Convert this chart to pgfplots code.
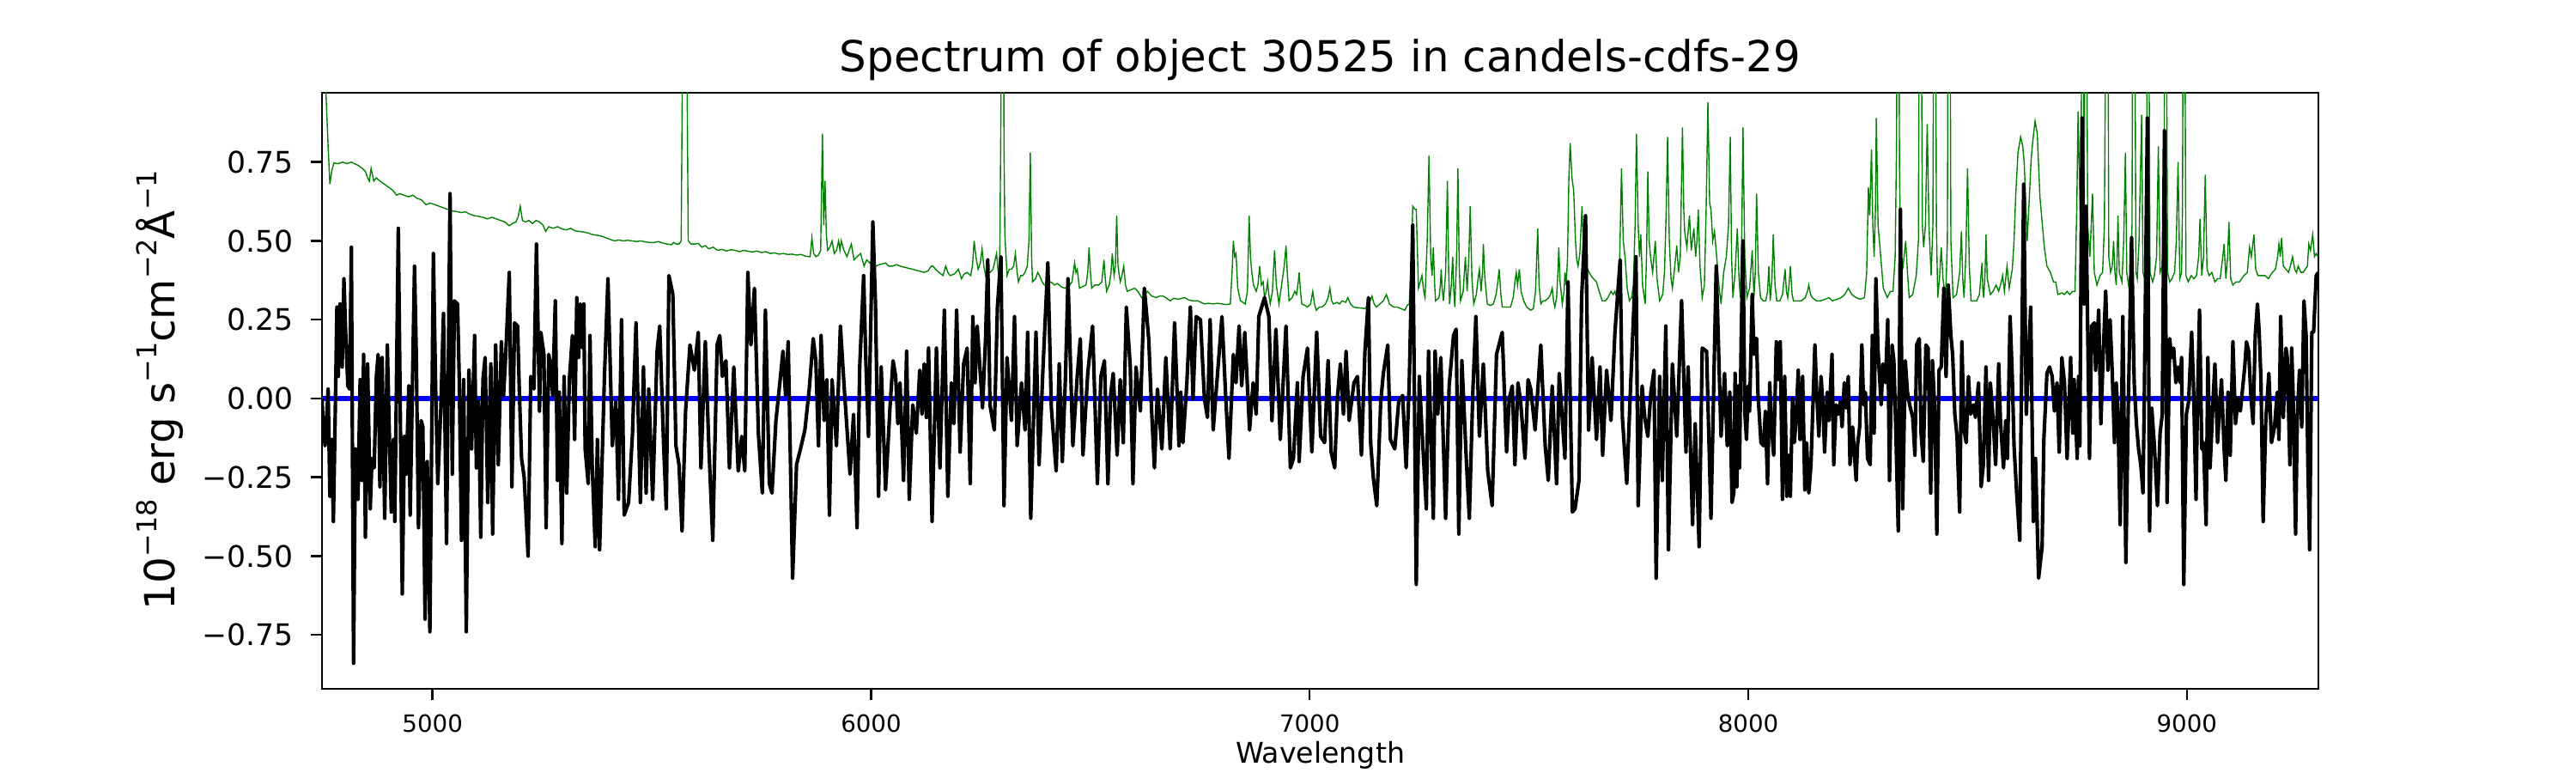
\documentclass[border=0pt]{standalone}
\usepackage{pgfplots}
\pgfplotsset{compat=1.18}
\usepackage{fontspec}
\setmainfont{DejaVu Sans}
\definecolor{mplgreen}{rgb}{0,0.5,0}
\definecolor{mplblue}{rgb}{0,0,1}
\newcommand\sups[1]{\raisebox{0.42em}{\fontsize{11.5}{12}\selectfont #1}}
\begin{document}
\begin{tikzpicture}
\useasboundingbox (-1.875in,-0.49in) rectangle (13.125in,4.01in);
\begin{axis}[
  at={(0,0)}, anchor=south west,
  scale only axis, width=11.625in, height=3.47in,
  xmin=4748, xmax=9300, ymin=-0.921, ymax=0.970,
  axis line style={line width=0.9pt},
  tick style={line width=0.9pt, black},
  major tick length=4.7pt,
  tick align=outside,
  xtick pos=bottom, ytick pos=left,
  xtick={5000,6000,7000,8000,9000},
  xticklabels={5000,6000,7000,8000,9000},
  ytick={-0.75,-0.5,-0.25,0,0.25,0.5,0.75},
  yticklabels={−0.75,−0.50,−0.25,0.00,0.25,0.50,0.75},
  x tick label style={font=\fontsize{10}{12}\selectfont, anchor=base, inner sep=0pt, yshift=-13.4pt},
  y tick label style={font=\fontsize{12.5}{15}\selectfont, anchor=east, inner sep=0pt, xshift=-7.2pt},
  clip=true,
]
\addplot[mplblue, line width=2pt] coordinates {(4748,0) (9300,0)};
\addplot[mplgreen, line width=0.5pt] coordinates {
(4748,1.40) (4752,1.15) (4757,0.97) (4762,0.80) (4766,0.68) (4770,0.72) (4775,0.747) (4785,0.745) (4795,0.75) (4805,0.745) (4815,0.75) (4822,0.745) (4830,0.74) (4840,0.73) (4847,0.72) (4852,0.70) (4856,0.69) (4860,0.73) (4866,0.69) (4872,0.70) (4880,0.69) (4890,0.68) (4900,0.67) (4910,0.66) (4918,0.645) (4925,0.65) (4935,0.645) (4945,0.64) (4955,0.645) (4965,0.635) (4975,0.63) (4985,0.615) (4995,0.62) (5005,0.615) (5015,0.61) (5025,0.605) (5035,0.60) (5045,0.595) (5055,0.593) (5065,0.59) (5075,0.592) (5085,0.585) (5095,0.58) (5105,0.578) (5115,0.575) (5125,0.57) (5135,0.575) (5145,0.57) (5155,0.565) (5165,0.56) (5175,0.548) (5182,0.555) (5190,0.56) (5195,0.575) (5200,0.61) (5205,0.565) (5212,0.56) (5220,0.565) (5228,0.555) (5236,0.565) (5244,0.56) (5252,0.55) (5258,0.53) (5265,0.545) (5275,0.54) (5285,0.545) (5295,0.538) (5305,0.535) (5315,0.54) (5325,0.532) (5335,0.53) (5345,0.528) (5355,0.525) (5365,0.52) (5375,0.518) (5385,0.515) (5395,0.51) (5405,0.505) (5415,0.50) (5425,0.503) (5435,0.50) (5445,0.502) (5455,0.50) (5465,0.498) (5475,0.50) (5485,0.497) (5495,0.495) (5505,0.495) (5515,0.498) (5525,0.493) (5535,0.49) (5545,0.488) (5550,0.495) (5556,0.49) (5562,0.49) (5567,0.50) (5571,1.3) (5579,1.3) (5583,0.50) (5590,0.49) (5598,0.49) (5606,0.492) (5614,0.48) (5622,0.485) (5630,0.475) (5640,0.48) (5650,0.47) (5660,0.473) (5670,0.468) (5680,0.472) (5690,0.47) (5700,0.466) (5710,0.47) (5720,0.467) (5730,0.465) (5740,0.468) (5750,0.463) (5760,0.466) (5770,0.46) (5780,0.462) (5790,0.458) (5800,0.46) (5810,0.457) (5820,0.458) (5830,0.455) (5840,0.457) (5850,0.452) (5858,0.45) (5861,0.45) (5865,0.51) (5869,0.46) (5874,0.45) (5880,0.455) (5885,0.47) (5889,0.84) (5892,0.55) (5895,0.69) (5898,0.52) (5901,0.47) (5906,0.48) (5911,0.50) (5916,0.46) (5921,0.47) (5926,0.50) (5929,0.47) (5932,0.50) (5938,0.47) (5945,0.45) (5950,0.47) (5955,0.49) (5961,0.44) (5968,0.45) (5976,0.46) (5984,0.42) (5990,0.44) (5997,0.43) (6004,0.44) (6010,0.42) (6020,0.425) (6033,0.43) (6040,0.42) (6049,0.42) (6058,0.425) (6066,0.42) (6080,0.415) (6095,0.41) (6108,0.405) (6121,0.40) (6130,0.405) (6137,0.42) (6141,0.42) (6147,0.41) (6155,0.40) (6164,0.39) (6170,0.42) (6175,0.40) (6180,0.39) (6190,0.395) (6199,0.41) (6206,0.38) (6212,0.395) (6219,0.40) (6227,0.39) (6231,0.42) (6235,0.50) (6239,0.45) (6244,0.41) (6249,0.43) (6253,0.475) (6257,0.42) (6261,0.39) (6266,0.40) (6271,0.40) (6278,0.41) (6283,0.44) (6286,0.46) (6290,0.40) (6293,0.38) (6296,0.9) (6297,1.4) (6302,1.4) (6303,0.8) (6305,0.52) (6310,0.39) (6315,0.41) (6320,0.41) (6325,0.42) (6329,0.46) (6333,0.40) (6336,0.37) (6341,0.39) (6346,0.39) (6351,0.40) (6356,0.42) (6360,0.50) (6363,0.78) (6366,0.45) (6368,0.37) (6375,0.38) (6380,0.40) (6384,0.39) (6390,0.37) (6395,0.36) (6405,0.365) (6410,0.37) (6418,0.36) (6425,0.365) (6433,0.355) (6441,0.35) (6450,0.355) (6458,0.37) (6464,0.43) (6467,0.40) (6470,0.41) (6475,0.35) (6482,0.355) (6490,0.36) (6494,0.40) (6497,0.48) (6500,0.40) (6503,0.35) (6510,0.36) (6519,0.36) (6526,0.37) (6531,0.44) (6534,0.38) (6537,0.34) (6543,0.36) (6547,0.40) (6550,0.46) (6554,0.39) (6557,0.42) (6560,0.58) (6563,0.42) (6568,0.37) (6572,0.39) (6576,0.42) (6580,0.36) (6584,0.34) (6592,0.345) (6601,0.35) (6608,0.34) (6617,0.32) (6624,0.33) (6630,0.34) (6640,0.325) (6650,0.32) (6658,0.325) (6666,0.325) (6674,0.318) (6682,0.31) (6690,0.318) (6700,0.315) (6715,0.32) (6725,0.312) (6734,0.31) (6745,0.31) (6760,0.30) (6770,0.302) (6780,0.30) (6790,0.302) (6800,0.30) (6810,0.298) (6819,0.30) (6823,0.40) (6826,0.50) (6829,0.45) (6832,0.46) (6836,0.35) (6842,0.31) (6848,0.305) (6853,0.30) (6858,0.34) (6862,0.58) (6865,0.45) (6868,0.40) (6872,0.36) (6878,0.34) (6882,0.36) (6886,0.42) (6890,0.36) (6894,0.37) (6897,0.32) (6901,0.34) (6904,0.37) (6907,0.33) (6910,0.30) (6915,0.34) (6920,0.47) (6924,0.36) (6930,0.30) (6933,0.33) (6937,0.37) (6942,0.42) (6946,0.485) (6949,0.40) (6953,0.31) (6960,0.32) (6966,0.34) (6970,0.33) (6974,0.37) (6976,0.40) (6979,0.34) (6982,0.30) (6990,0.295) (6995,0.29) (7002,0.30) (7007,0.34) (7011,0.30) (7015,0.28) (7022,0.29) (7028,0.29) (7036,0.30) (7042,0.32) (7046,0.35) (7050,0.31) (7054,0.30) (7062,0.305) (7068,0.30) (7074,0.31) (7082,0.305) (7087,0.32) (7093,0.30) (7100,0.29) (7110,0.288) (7118,0.287) (7126,0.285) (7134,0.30) (7138,0.31) (7142,0.325) (7147,0.30) (7152,0.29) (7160,0.30) (7168,0.31) (7175,0.33) (7182,0.30) (7191,0.29) (7200,0.29) (7208,0.285) (7217,0.28) (7222,0.295) (7227,0.30) (7232,0.45) (7235,0.61) (7240,0.60) (7243,0.60) (7246,0.45) (7248,0.35) (7252,0.37) (7256,0.39) (7260,0.34) (7263,0.32) (7268,0.50) (7272,0.77) (7276,0.45) (7279,0.39) (7282,0.48) (7285,0.36) (7287,0.31) (7295,0.32) (7298,0.36) (7300,0.41) (7302,0.35) (7305,0.31) (7310,0.40) (7314,0.69) (7317,0.40) (7319,0.30) (7323,0.36) (7326,0.45) (7329,0.33) (7331,0.29) (7335,0.45) (7338,0.73) (7341,0.42) (7344,0.31) (7350,0.34) (7355,0.45) (7359,0.34) (7363,0.45) (7366,0.61) (7370,0.38) (7374,0.30) (7380,0.33) (7384,0.38) (7387,0.41) (7391,0.34) (7394,0.40) (7396,0.49) (7399,0.39) (7405,0.30) (7412,0.295) (7419,0.30) (7425,0.33) (7429,0.37) (7432,0.41) (7436,0.33) (7439,0.29) (7448,0.29) (7458,0.29) (7464,0.32) (7468,0.37) (7471,0.40) (7474,0.36) (7478,0.41) (7482,0.34) (7488,0.31) (7495,0.29) (7504,0.28) (7510,0.285) (7515,0.34) (7520,0.54) (7523,0.36) (7527,0.30) (7532,0.31) (7537,0.31) (7545,0.32) (7549,0.33) (7553,0.35) (7556,0.31) (7559,0.29) (7563,0.32) (7566,0.40) (7568,0.48) (7571,0.37) (7576,0.30) (7580,0.34) (7582,0.40) (7585,0.36) (7588,0.45) (7591,0.70) (7594,0.81) (7598,0.70) (7602,0.66) (7606,0.50) (7609,0.44) (7612,0.42) (7616,0.46) (7619,0.55) (7621,0.61) (7624,0.48) (7628,0.40) (7634,0.41) (7641,0.39) (7647,0.38) (7654,0.37) (7660,0.34) (7667,0.31) (7674,0.31) (7680,0.32) (7687,0.34) (7692,0.33) (7696,0.34) (7700,0.32) (7703,0.29) (7707,0.45) (7711,0.73) (7715,0.50) (7719,0.45) (7724,0.35) (7729,0.31) (7734,0.32) (7738,0.36) (7742,0.55) (7745,0.84) (7749,0.55) (7752,0.45) (7755,0.52) (7759,0.36) (7765,0.30) (7768,0.45) (7771,0.72) (7774,0.50) (7778,0.44) (7782,0.40) (7788,0.50) (7792,0.38) (7798,0.31) (7805,0.33) (7809,0.40) (7813,0.60) (7816,0.83) (7820,0.50) (7824,0.38) (7827,0.35) (7831,0.40) (7837,0.485) (7841,0.40) (7845,0.45) (7848,0.70) (7850,0.86) (7853,0.60) (7855,0.53) (7860,0.48) (7866,0.58) (7870,0.47) (7876,0.54) (7880,0.45) (7883,0.50) (7886,0.60) (7890,0.42) (7895,0.32) (7900,0.36) (7904,0.60) (7908,0.94) (7912,0.62) (7915,0.60) (7919,0.50) (7923,0.53) (7928,0.45) (7933,0.36) (7938,0.30) (7944,0.40) (7950,0.45) (7955,0.55) (7959,0.83) (7962,0.45) (7965,0.32) (7970,0.40) (7975,0.54) (7979,0.38) (7982,0.32) (7985,0.50) (7988,0.86) (7992,0.45) (7997,0.32) (8003,0.35) (8009,0.47) (8013,0.32) (8016,0.40) (8019,0.65) (8023,0.40) (8028,0.32) (8034,0.31) (8040,0.31) (8044,0.34) (8047,0.42) (8050,0.31) (8054,0.38) (8057,0.52) (8061,0.36) (8065,0.31) (8072,0.31) (8078,0.33) (8084,0.41) (8087,0.34) (8090,0.32) (8093,0.36) (8096,0.42) (8100,0.33) (8103,0.31) (8112,0.31) (8121,0.31) (8130,0.32) (8135,0.34) (8138,0.36) (8142,0.33) (8146,0.32) (8155,0.31) (8165,0.31) (8175,0.315) (8184,0.32) (8192,0.31) (8203,0.315) (8212,0.32) (8220,0.33) (8228,0.35) (8236,0.33) (8246,0.32) (8255,0.315) (8265,0.32) (8270,0.40) (8274,0.67) (8277,0.58) (8281,0.79) (8284,0.55) (8287,0.45) (8290,0.60) (8292,0.89) (8296,0.55) (8302,0.45) (8308,0.35) (8317,0.32) (8324,0.34) (8330,0.34) (8335,0.45) (8338,0.8) (8340,1.4) (8343,1.4) (8345,0.7) (8348,0.45) (8353,0.42) (8359,0.50) (8363,0.40) (8367,0.32) (8375,0.33) (8383,0.39) (8388,0.50) (8390,1.4) (8394,1.4) (8397,0.55) (8400,0.48) (8404,0.55) (8408,0.87) (8412,0.55) (8417,0.39) (8421,0.55) (8423,1.4) (8427,1.4) (8429,0.55) (8432,0.32) (8436,0.38) (8440,0.48) (8444,0.38) (8450,0.32) (8454,0.50) (8456,1.4) (8460,1.4) (8462,0.50) (8467,0.32) (8475,0.33) (8482,0.40) (8486,0.53) (8489,0.38) (8492,0.32) (8496,0.45) (8500,0.73) (8504,0.42) (8508,0.31) (8515,0.31) (8521,0.31) (8527,0.33) (8530,0.38) (8533,0.43) (8535,0.34) (8537,0.32) (8540,0.40) (8542,0.52) (8545,0.38) (8552,0.33) (8558,0.34) (8565,0.36) (8571,0.34) (8577,0.37) (8580,0.39) (8584,0.34) (8590,0.42) (8595,0.35) (8602,0.41) (8606,0.50) (8610,0.65) (8615,0.78) (8621,0.83) (8626,0.80) (8629,0.75) (8633,0.62) (8636,0.50) (8641,0.64) (8645,0.76) (8649,0.82) (8654,0.88) (8659,0.84) (8665,0.64) (8670,0.56) (8675,0.48) (8681,0.42) (8689,0.40) (8696,0.37) (8701,0.37) (8706,0.33) (8715,0.335) (8721,0.33) (8727,0.34) (8733,0.33) (8740,0.34) (8745,0.34) (8749,0.60) (8752,0.91) (8755,0.70) (8758,0.50) (8761,1.4) (8764,1.4) (8766,0.60) (8768,1.4) (8771,1.4) (8774,0.55) (8779,0.45) (8785,0.65) (8789,0.40) (8795,0.36) (8802,0.39) (8808,0.40) (8812,0.55) (8816,1.4) (8820,1.4) (8822,0.45) (8826,0.40) (8830,0.42) (8833,0.50) (8836,0.40) (8839,0.36) (8841,0.45) (8843,0.58) (8846,0.40) (8852,0.37) (8856,0.50) (8860,0.78) (8863,0.40) (8867,0.36) (8872,0.40) (8875,0.55) (8877,1.4) (8881,1.4) (8884,0.40) (8887,0.38) (8891,0.50) (8897,0.90) (8900,0.40) (8904,0.38) (8908,0.55) (8910,1.4) (8913,1.4) (8916,0.40) (8922,0.37) (8926,0.39) (8931,0.45) (8935,0.80) (8939,0.40) (8944,0.42) (8948,0.70) (8950,1.4) (8953,1.4) (8956,0.40) (8961,0.37) (8966,0.38) (8972,0.40) (8976,0.50) (8980,0.75) (8984,0.38) (8988,0.40) (8990,0.60) (8992,1.4) (8995,1.4) (8998,0.39) (9003,0.37) (9010,0.39) (9016,0.38) (9022,0.39) (9027,0.45) (9030,0.57) (9034,0.39) (9038,0.45) (9042,0.71) (9046,0.41) (9051,0.39) (9057,0.40) (9064,0.37) (9070,0.38) (9076,0.38) (9082,0.45) (9085,0.49) (9089,0.38) (9093,0.45) (9096,0.56) (9100,0.38) (9105,0.36) (9112,0.37) (9120,0.37) (9130,0.39) (9138,0.40) (9143,0.48) (9147,0.45) (9153,0.52) (9157,0.41) (9162,0.39) (9170,0.39) (9178,0.39) (9186,0.38) (9195,0.40) (9202,0.41) (9207,0.45) (9210,0.49) (9213,0.45) (9216,0.51) (9220,0.42) (9226,0.41) (9232,0.40) (9236,0.42) (9241,0.45) (9246,0.41) (9250,0.40) (9254,0.42) (9260,0.40) (9265,0.40) (9270,0.41) (9275,0.42) (9278,0.49) (9282,0.47) (9287,0.52) (9291,0.45) (9295,0.46) (9299,0.45)
};
\addplot[black, line width=1.5pt, line join=round] coordinates {
(4748,0.00) (4750,-0.06) (4755,-0.15) (4758,-0.08) (4762,0.03) (4766,-0.31) (4770,-0.13) (4774,-0.39) (4779,0.02) (4782,0.29) (4785,0.07) (4789,0.30) (4794,0.10) (4798,0.38) (4802,0.21) (4807,0.04) (4811,0.03) (4815,0.48) (4820,-0.84) (4824,-0.16) (4830,-0.32) (4835,0.06) (4839,-0.26) (4843,0.14) (4847,-0.44) (4852,0.11) (4858,-0.35) (4862,-0.19) (4867,-0.22) (4872,0.07) (4876,0.14) (4880,-0.28) (4885,0.13) (4891,-0.38) (4897,0.17) (4901,-0.08) (4906,-0.36) (4911,-0.13) (4914,-0.39) (4922,0.54) (4931,-0.62) (4936,-0.12) (4940,-0.24) (4946,0.04) (4949,-0.37) (4959,0.42) (4963,0.14) (4968,-0.41) (4974,-0.07) (4978,-0.09) (4983,-0.70) (4988,-0.20) (4994,-0.74) (5002,0.46) (5007,0.04) (5012,-0.27) (5019,-0.03) (5025,0.27) (5032,-0.46) (5040,0.65) (5045,-0.24) (5050,0.31) (5057,0.30) (5061,0.06) (5066,-0.45) (5071,0.06) (5077,-0.74) (5083,0.09) (5089,-0.16) (5096,0.20) (5100,-0.22) (5105,-0.01) (5110,-0.44) (5115,0.06) (5120,0.13) (5126,-0.33) (5133,0.11) (5137,-0.43) (5144,0.17) (5150,-0.21) (5157,0.18) (5162,0.01) (5167,0.14) (5175,0.40) (5181,-0.28) (5187,0.24) (5194,0.23) (5198,0.02) (5203,-0.19) (5209,-0.25) (5218,-0.50) (5224,0.07) (5231,0.03) (5237,0.49) (5244,-0.04) (5247,0.21) (5254,0.14) (5259,-0.41) (5265,0.14) (5270,0.10) (5274,0.01) (5280,0.31) (5285,-0.26) (5289,0.02) (5295,-0.46) (5300,0.07) (5306,-0.30) (5312,0.06) (5319,0.20) (5324,-0.13) (5329,0.32) (5333,0.13) (5337,0.30) (5342,0.16) (5345,0.30) (5348,-0.16) (5355,-0.27) (5359,0.20) (5364,-0.21) (5371,-0.47) (5376,-0.13) (5381,-0.48) (5392,0.07) (5400,0.38) (5410,-0.15) (5418,-0.01) (5424,-0.32) (5431,0.25) (5437,-0.37) (5447,-0.33) (5456,-0.11) (5464,0.24) (5474,-0.33) (5481,0.10) (5487,-0.30) (5493,0.03) (5502,-0.32) (5512,0.15) (5518,0.23) (5527,-0.15) (5533,-0.35) (5539,0.39) (5548,0.33) (5555,-0.15) (5562,-0.21) (5569,-0.42) (5577,-0.04) (5587,0.17) (5597,0.09) (5606,0.21) (5612,-0.22) (5622,0.18) (5630,-0.15) (5639,-0.45) (5649,0.17) (5655,0.20) (5661,0.07) (5669,0.12) (5677,-0.22) (5687,0.10) (5697,-0.23) (5705,-0.12) (5712,-0.23) (5719,0.40) (5726,0.17) (5734,0.35) (5743,-0.11) (5752,-0.30) (5759,0.28) (5768,-0.27) (5774,-0.30) (5783,-0.07) (5792,0.05) (5799,0.15) (5805,0.01) (5811,0.18) (5821,-0.57) (5830,-0.21) (5839,-0.16) (5849,-0.10) (5859,0.03) (5868,0.19) (5874,0.12) (5880,-0.15) (5886,0.20) (5893,-0.07) (5899,0.06) (5905,-0.37) (5911,0.06) (5921,-0.15) (5930,0.23) (5938,0.05) (5952,-0.24) (5960,-0.05) (5968,-0.41) (5974,0.10) (5983,0.39) (5988,0.12) (5994,-0.12) (6004,0.56) (6010,0.30) (6017,-0.31) (6023,0.10) (6033,-0.29) (6043,-0.03) (6050,0.12) (6056,0.07) (6061,-0.08) (6066,0.05) (6074,-0.26) (6081,0.15) (6087,-0.32) (6095,-0.02) (6103,-0.11) (6111,0.09) (6116,-0.05) (6121,0.11) (6126,-0.06) (6131,0.16) (6139,-0.39) (6149,0.16) (6157,-0.22) (6167,0.28) (6175,-0.31) (6183,0.05) (6189,-0.08) (6195,0.28) (6203,-0.17) (6211,0.11) (6219,0.16) (6226,-0.27) (6232,0.26) (6237,0.05) (6242,0.23) (6254,-0.03) (6261,0.19) (6266,0.44) (6271,-0.02) (6281,-0.10) (6288,0.29) (6296,0.45) (6303,-0.34) (6310,0.13) (6320,-0.07) (6327,0.26) (6333,-0.15) (6343,0.05) (6351,-0.10) (6357,0.21) (6364,-0.38) (6376,0.21) (6383,-0.21) (6392,0.10) (6403,0.43) (6411,-0.03) (6422,-0.23) (6429,0.11) (6436,-0.20) (6443,0.06) (6449,0.38) (6460,-0.15) (6470,0.07) (6477,0.19) (6483,-0.18) (6494,0.08) (6505,0.23) (6516,-0.27) (6524,0.07) (6532,0.12) (6540,-0.27) (6546,0.01) (6552,0.08) (6561,-0.18) (6568,0.06) (6575,-0.14) (6582,0.29) (6591,0.10) (6597,-0.27) (6604,0.10) (6614,-0.04) (6623,0.35) (6633,0.19) (6640,-0.05) (6646,-0.22) (6653,0.03) (6663,-0.16) (6672,0.13) (6682,-0.16) (6692,0.24) (6702,-0.15) (6706,0.02) (6711,-0.14) (6720,0.05) (6728,0.29) (6734,0.00) (6741,0.26) (6751,0.25) (6760,0.00) (6767,-0.06) (6773,0.25) (6780,-0.10) (6790,0.08) (6800,0.26) (6808,0.02) (6816,-0.19) (6826,0.14) (6832,0.05) (6839,0.23) (6845,0.04) (6852,0.21) (6863,-0.10) (6871,0.05) (6878,-0.05) (6884,0.26) (6897,0.32) (6907,0.26) (6914,-0.07) (6923,0.22) (6933,-0.13) (6946,0.23) (6956,-0.22) (6963,-0.19) (6972,0.05) (6976,-0.20) (6985,0.07) (6995,0.16) (7005,-0.17) (7016,0.21) (7025,-0.12) (7034,-0.14) (7042,0.12) (7049,-0.17) (7057,-0.22) (7063,0.00) (7070,0.11) (7077,-0.05) (7083,0.15) (7090,-0.07) (7101,0.05) (7109,0.07) (7118,-0.18) (7126,0.15) (7134,0.32) (7139,-0.14) (7145,-0.25) (7153,-0.34) (7162,-0.01) (7168,0.08) (7178,0.17) (7184,-0.13) (7194,-0.16) (7203,-0.01) (7212,0.01) (7220,-0.22) (7227,0.05) (7235,0.55) (7243,-0.59) (7250,0.07) (7256,-0.10) (7266,-0.35) (7271,0.15) (7282,-0.38) (7286,0.15) (7292,-0.05) (7299,0.13) (7310,-0.38) (7318,0.04) (7328,0.20) (7334,0.22) (7340,-0.43) (7347,0.12) (7357,-0.19) (7364,-0.38) (7372,0.02) (7379,0.26) (7387,-0.12) (7396,0.11) (7406,-0.23) (7416,-0.34) (7426,0.14) (7439,0.21) (7449,-0.17) (7455,0.00) (7462,0.04) (7468,-0.21) (7475,0.05) (7481,-0.01) (7491,-0.19) (7498,0.06) (7504,0.03) (7514,-0.10) (7527,0.17) (7537,-0.15) (7544,-0.26) (7553,0.04) (7563,-0.27) (7569,0.08) (7582,-0.19) (7589,0.37) (7599,-0.36) (7605,-0.35) (7614,-0.26) (7620,0.32) (7629,0.58) (7636,-0.10) (7644,0.13) (7654,-0.13) (7662,0.10) (7668,-0.18) (7677,0.09) (7687,-0.07) (7696,0.21) (7708,0.44) (7713,-0.06) (7723,-0.27) (7732,0.05) (7744,0.45) (7749,-0.34) (7758,0.04) (7764,-0.06) (7771,-0.12) (7778,0.02) (7785,0.09) (7790,-0.57) (7798,0.07) (7804,-0.26) (7812,0.23) (7818,-0.48) (7827,0.11) (7837,-0.12) (7848,0.31) (7858,-0.17) (7863,0.10) (7873,-0.40) (7879,-0.08) (7888,-0.47) (7895,0.16) (7905,0.15) (7915,-0.38) (7927,0.42) (7938,-0.12) (7946,0.08) (7952,-0.15) (7958,0.02) (7963,-0.33) (7967,-0.30) (7970,0.08) (7974,-0.28) (7977,0.04) (7980,-0.22) (7984,0.20) (7988,0.50) (7992,-0.04) (7996,-0.13) (8000,0.04) (8003,-0.04) (8009,0.33) (8013,0.14) (8016,0.19) (8019,0.19) (8022,0.02) (8029,-0.14) (8035,-0.15) (8039,-0.04) (8044,-0.27) (8049,0.05) (8053,-0.09) (8058,-0.18) (8064,0.18) (8068,0.06) (8073,0.18) (8078,-0.32) (8083,0.07) (8088,-0.31) (8092,-0.18) (8096,-0.31) (8101,0.00) (8105,-0.14) (8109,-0.07) (8114,0.09) (8118,-0.13) (8124,0.07) (8129,-0.29) (8133,-0.14) (8138,-0.30) (8143,-0.21) (8152,0.17) (8156,0.02) (8161,-0.12) (8166,0.07) (8171,-0.04) (8174,-0.17) (8180,0.02) (8184,-0.07) (8191,0.14) (8195,-0.21) (8200,-0.02) (8205,-0.05) (8210,-0.01) (8214,-0.09) (8219,0.05) (8223,-0.03) (8228,0.07) (8232,-0.21) (8238,-0.09) (8246,-0.26) (8249,-0.15) (8254,-0.09) (8259,0.17) (8263,-0.02) (8267,0.02) (8272,-0.19) (8278,-0.21) (8283,0.20) (8287,-0.11) (8291,0.38) (8296,0.15) (8303,-0.02) (8307,0.11) (8313,0.05) (8318,0.25) (8322,-0.26) (8328,0.17) (8332,0.12) (8337,-0.13) (8342,-0.42) (8347,0.60) (8352,-0.35) (8358,0.12) (8363,0.02) (8368,-0.02) (8375,-0.06) (8380,-0.18) (8384,0.17) (8390,0.19) (8394,-0.11) (8399,-0.20) (8405,0.17) (8410,0.16) (8416,-0.30) (8420,0.12) (8425,-0.03) (8430,-0.43) (8435,0.09) (8440,0.10) (8446,0.35) (8451,0.07) (8456,0.36) (8462,0.20) (8466,0.14) (8471,-0.05) (8476,-0.12) (8482,-0.36) (8487,0.18) (8492,-0.10) (8497,-0.14) (8502,0.07) (8507,-0.05) (8514,-0.02) (8518,-0.06) (8525,0.05) (8531,-0.28) (8536,-0.21) (8542,0.10) (8548,-0.26) (8552,0.05) (8558,-0.06) (8564,-0.21) (8571,0.11) (8575,-0.07) (8582,-0.22) (8587,-0.07) (8591,-0.19) (8597,0.26) (8602,0.07) (8606,-0.15) (8612,-0.30) (8619,-0.45) (8628,0.68) (8634,-0.05) (8640,0.16) (8644,0.29) (8650,-0.39) (8655,-0.19) (8662,-0.57) (8670,-0.47) (8674,-0.13) (8681,0.08) (8687,0.10) (8693,0.07) (8698,-0.04) (8704,0.05) (8709,-0.17) (8715,0.13) (8721,0.05) (8727,-0.19) (8735,0.13) (8740,-0.11) (8743,0.06) (8750,-0.19) (8753,0.07) (8756,-0.15) (8761,0.89) (8766,0.30) (8770,0.61) (8778,-0.19) (8783,0.23) (8789,0.24) (8792,0.09) (8799,0.28) (8804,-0.08) (8809,0.13) (8815,0.34) (8820,0.09) (8825,0.25) (8830,0.08) (8835,-0.14) (8839,0.05) (8843,-0.05) (8848,-0.40) (8854,0.26) (8861,-0.52) (8866,-0.06) (8874,0.51) (8880,0.05) (8885,-0.08) (8890,-0.16) (8895,-0.21) (8900,-0.30) (8903,0.00) (8910,0.89) (8915,-0.42) (8920,-0.03) (8926,-0.15) (8933,-0.34) (8939,-0.11) (8944,-0.05) (8949,0.85) (8955,-0.33) (8961,0.19) (8965,0.13) (8970,0.16) (8975,0.05) (8980,0.10) (8985,0.05) (8988,0.13) (8993,-0.59) (8999,-0.05) (9004,-0.01) (9011,0.21) (9015,0.05) (9021,-0.32) (9024,-0.03) (9029,0.28) (9034,-0.16) (9038,-0.14) (9044,-0.40) (9048,0.13) (9053,-0.22) (9060,0.00) (9064,0.11) (9070,-0.14) (9074,-0.05) (9079,0.06) (9085,-0.16) (9089,-0.26) (9094,0.02) (9099,-0.18) (9105,0.18) (9111,-0.08) (9117,0.00) (9122,-0.04) (9127,0.03) (9132,0.10) (9136,0.18) (9141,0.15) (9146,0.01) (9151,-0.08) (9156,0.20) (9161,0.30) (9165,0.21) (9169,0.06) (9174,-0.39) (9180,-0.07) (9187,0.08) (9193,-0.14) (9200,-0.09) (9206,0.02) (9210,-0.13) (9214,0.26) (9220,-0.06) (9226,0.16) (9229,0.13) (9235,-0.21) (9239,0.16) (9242,0.03) (9248,-0.43) (9252,-0.05) (9257,0.09) (9262,-0.09) (9267,0.31) (9272,0.20) (9276,-0.21) (9280,-0.48) (9285,0.21) (9289,0.21) (9295,0.39) (9300,0.40)
};
\end{axis}
\node[anchor=base, font=\fontsize{18}{21}\selectfont] at (5.8125in,3.59in) {Spectrum of object 30525 in candels-cdfs-29};
\node[anchor=base, font=\fontsize{12}{14}\selectfont] at (5.8125in,-0.43in) {Wavelength};
\node[rotate=90, anchor=base, font=\fontsize{17.5}{20}\selectfont] at (-0.86in,1.74in) {10\sups{−18} erg s\sups{−1}cm\sups{−2}Å\sups{−1}};
\end{tikzpicture}
\end{document}
